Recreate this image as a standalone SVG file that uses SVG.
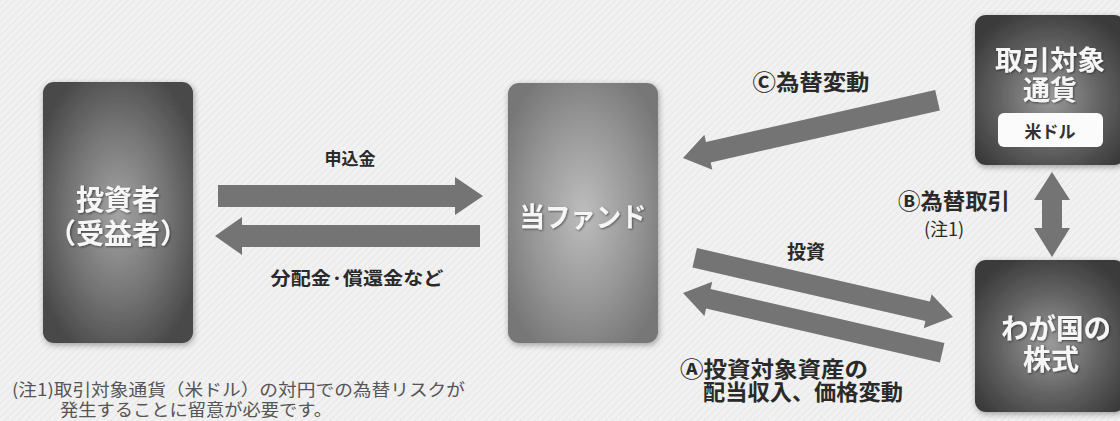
<svg xmlns="http://www.w3.org/2000/svg" width="1120" height="421" viewBox="0 0 1120 421">
<defs>
<pattern id="hatch" width="5" height="5" patternUnits="userSpaceOnUse" patternTransform="rotate(45)">
<rect width="5" height="5" fill="#f1f1f1"/>
<line x1="0" y1="0" x2="0" y2="5" stroke="#e5e5e5" stroke-width="1.6"/>
</pattern>
<radialGradient id="gDark" cx="50%" cy="50%" r="60%">
<stop offset="0" stop-color="#a4a4a4"/>
<stop offset="0.55" stop-color="#747474"/>
<stop offset="1" stop-color="#484848"/>
</radialGradient>
<radialGradient id="gFund" cx="50%" cy="50%" r="60%">
<stop offset="0" stop-color="#bdbdbd"/>
<stop offset="0.6" stop-color="#959595"/>
<stop offset="1" stop-color="#777777"/>
</radialGradient>
<radialGradient id="gRight" cx="50%" cy="55%" r="62%">
<stop offset="0" stop-color="#9a9a9a"/>
<stop offset="0.55" stop-color="#626262"/>
<stop offset="1" stop-color="#3a3a3a"/>
</radialGradient>
<filter id="sh" x="-20%" y="-20%" width="140%" height="140%">
<feGaussianBlur in="SourceAlpha" stdDeviation="3"/>
<feOffset dx="1" dy="2"/>
<feComponentTransfer><feFuncA type="linear" slope="0.35"/></feComponentTransfer>
<feMerge><feMergeNode/><feMergeNode in="SourceGraphic"/></feMerge>
</filter>
<filter id="ts" x="-10%" y="-10%" width="120%" height="130%">
<feGaussianBlur in="SourceAlpha" stdDeviation="1"/>
<feOffset dx="1" dy="1"/>
<feComponentTransfer><feFuncA type="linear" slope="0.5"/></feComponentTransfer>
<feMerge><feMergeNode/><feMergeNode in="SourceGraphic"/></feMerge>
</filter>
</defs>
<style>
text{font-family:"Noto Sans CJK JP","Noto Sans",sans-serif;dominant-baseline:central}
.nt{fill:#f6f6f6;font-weight:700;text-anchor:middle}
.lb{fill:#2a2a2a;font-weight:700;text-anchor:middle}
.st{text-anchor:start}
.arr{fill:#747474}
.fn{fill:#555;font-size:17px}
</style>
<rect width="1120" height="421" fill="url(#hatch)"/>

<g id="connectors">
<polygon class="arr" points="218,185 455,185 455,177 483,196 455,215 455,207 218,207"/>
<polygon class="arr" points="480,225 242,225 242,217 215,236 242,255 242,247 480,247"/>
<polygon class="arr" transform="translate(683,158) rotate(167.2)" points="-261,-10.5 -26,-10.5 -26,-18 0,0 -26,18 -26,10.5 -261,10.5"/>
<polygon class="arr" transform="translate(953,317) rotate(12.9)" points="-265,-10 -26,-10 -26,-17.5 0,0 -26,17.5 -26,10 -265,10"/>
<polygon class="arr" transform="translate(683,293) rotate(193.0)" points="-266,-10 -26,-10 -26,-17.5 0,0 -26,17.5 -26,10 -266,10"/>
<polygon class="arr" points="1052,172 1070,200 1062,200 1062,228 1070,228 1052,257 1034,228 1042,228 1042,200 1034,200"/>
<text class="lb" x="350" y="157" font-size="17">申込金</text>
<text class="lb" x="357" y="277" font-size="18" textLength="173" lengthAdjust="spacingAndGlyphs">分配金·償還金など</text>
<text class="lb" x="806" y="250" font-size="19">投資</text>
<text class="lb" x="811" y="80" font-size="22" textLength="117" lengthAdjust="spacingAndGlyphs">Ⓒ為替変動</text>
<text class="lb" font-size="22"><tspan x="954" y="199" textLength="112" lengthAdjust="spacingAndGlyphs">Ⓑ為替取引</tspan><tspan x="944" y="228" font-size="18" font-weight="400">(注1)</tspan></text>
<text class="lb st" font-size="22"><tspan x="680" y="367" textLength="188" lengthAdjust="spacingAndGlyphs">Ⓐ投資対象資産の</tspan><tspan x="703" y="390" textLength="200" lengthAdjust="spacingAndGlyphs">配当収入、価格変動</tspan></text>
</g>

<g id="investor">
<rect x="43" y="82" width="150" height="261" rx="11" fill="url(#gDark)" filter="url(#sh)"/>
<text class="nt" font-size="28" filter="url(#ts)"><tspan x="118" y="198">投資者</tspan><tspan x="118" y="232">（受益者）</tspan></text>
</g>

<g id="fund">
<rect x="508" y="83" width="150" height="260" rx="11" fill="url(#gFund)" filter="url(#sh)"/>
<text class="nt" x="583" y="215" font-size="27" textLength="127" lengthAdjust="spacingAndGlyphs" filter="url(#ts)">当ファンド</text>
</g>

<g id="currency">
<rect x="975" y="15" width="150" height="150" rx="11" fill="url(#gRight)" filter="url(#sh)"/>
<text class="nt" font-size="27" filter="url(#ts)"><tspan x="1050" y="58" textLength="110" lengthAdjust="spacingAndGlyphs">取引対象</tspan><tspan x="1050" y="88">通貨</tspan></text>
<rect x="998" y="113" width="105" height="34" rx="6" fill="#fbfbfb"/>
<text x="1050" y="130" font-size="17" fill="#333" text-anchor="middle" font-weight="700">米ドル</text>
</g>

<g id="stocks">
<rect x="975" y="260" width="150" height="152" rx="11" fill="url(#gRight)" filter="url(#sh)"/>
<text class="nt" font-size="28" filter="url(#ts)"><tspan x="1056" y="327" textLength="110" lengthAdjust="spacingAndGlyphs">わが国の</tspan><tspan x="1051" y="358">株式</tspan></text>
</g>

<g id="note">
<text class="fn"><tspan x="12" y="388" textLength="453" lengthAdjust="spacingAndGlyphs">(注1)取引対象通貨（米ドル）の対円での為替リスクが</tspan><tspan x="60" y="408" textLength="272" lengthAdjust="spacingAndGlyphs">発生することに留意が必要です。</tspan></text>
</g>
</svg>
